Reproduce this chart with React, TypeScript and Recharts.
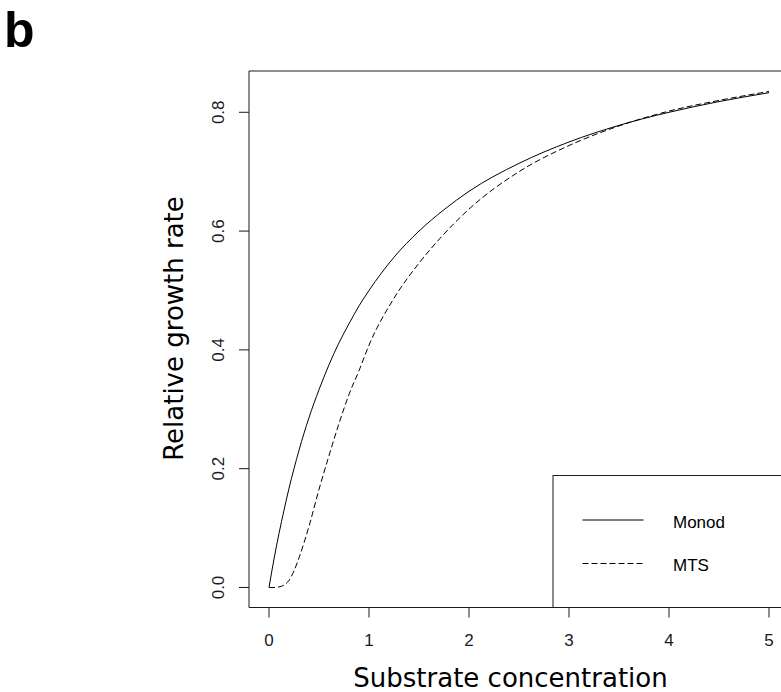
import { LineChart, Line, XAxis, YAxis, ReferenceArea } from 'recharts';

// substrate concentration (x) and relative growth rate
const SUBSTRATE = [0, 0.05, 0.1, 0.15, 0.2, 0.25, 0.3, 0.4, 0.5, 0.6, 0.7, 0.8, 0.9, 1.0, 1.25, 1.5, 1.75, 2, 2.5, 3, 3.5, 4, 4.5, 5];
const MONOD = [0, 0.048, 0.091, 0.13, 0.167, 0.2, 0.231, 0.286, 0.333, 0.375, 0.412, 0.444, 0.474, 0.5, 0.556, 0.6, 0.636, 0.667, 0.714, 0.75, 0.778, 0.8, 0.818, 0.833];
const MTS = [0, 0, 0.001, 0.004, 0.012, 0.028, 0.05, 0.103, 0.165, 0.222, 0.276, 0.325, 0.365, 0.408, 0.487, 0.546, 0.595, 0.637, 0.7, 0.744, 0.777, 0.802, 0.82, 0.835];

const X_TICKS = [0, 1, 2, 3, 4, 5];
const Y_TICKS = [0, 0.2, 0.4, 0.6, 0.8];
const X_DOMAIN: [number, number] = [-0.2, 5.2];
const Y_DOMAIN: [number, number] = [-0.0337, 0.8695];

const data = SUBSTRATE.map((s, i) => ({ s, monod: MONOD[i], mts: MTS[i] }));

const INK = '#1a1a1a';
const TICK_FONT = '"Liberation Sans", Arial, sans-serif';
const TITLE_FONT = '"DejaVu Sans", Verdana, sans-serif';

const YTick = ({ y, payload }: any) => (
  <text
    x={224}
    y={y}
    transform={`rotate(-90 224 ${y})`}
    textAnchor="middle"
    fontFamily={TICK_FONT}
    fontSize={17}
    fill={INK}
  >
    {Number(payload.value).toFixed(1)}
  </text>
);

export default function App() {
  return (
    <div
      style={{
        position: 'fixed',
        left: 0,
        top: 0,
        width: 781,
        height: 692,
        overflow: 'hidden',
        background: '#fff',
      }}
    >
      <LineChart
        width={800}
        height={692}
        data={data}
        margin={{ top: 71, right: 11, bottom: 24.5, left: 189 }}
      >
        <XAxis
          dataKey="s"
          type="number"
          domain={X_DOMAIN}
          ticks={X_TICKS}
          allowDataOverflow
          axisLine={false}
          tickSize={10}
          tickMargin={16}
          height={60}
          tickLine={{ stroke: INK }}
          tick={{ fontFamily: TICK_FONT, fontSize: 17, fill: INK }}
        />
        <YAxis
          type="number"
          domain={Y_DOMAIN}
          ticks={Y_TICKS}
          allowDataOverflow
          axisLine={false}
          tickSize={10}
          width={60}
          tickLine={{ stroke: INK }}
          tick={<YTick />}
        />
        <ReferenceArea
          x1={X_DOMAIN[0]}
          x2={X_DOMAIN[1]}
          y1={Y_DOMAIN[0]}
          y2={Y_DOMAIN[1]}
          fill="none"
          fillOpacity={0}
          stroke={INK}
          strokeWidth={1}
        />
        <Line
          dataKey="monod"
          type="monotone"
          stroke="#000"
          strokeWidth={1}
          dot={false}
          isAnimationActive={false}
        />
        <Line
          dataKey="mts"
          type="monotone"
          stroke="#000"
          strokeWidth={1}
          strokeDasharray="6 3"
          dot={false}
          isAnimationActive={false}
        />
      </LineChart>

      {/* panel letter and axis titles */}
      <svg
        width={781}
        height={692}
        style={{ position: 'absolute', left: 0, top: 0, pointerEvents: 'none' }}
      >
        <text x={4} y={47} fontFamily={TICK_FONT} fontWeight="bold" fontSize={50} fill="#000">
          b
        </text>
        <text x={510.5} y={687} textAnchor="middle" fontFamily={TITLE_FONT} fontSize={26} fill="#000">
          Substrate concentration
        </text>
        <text
          x={183}
          y={328.5}
          transform="rotate(-90 183 328.5)"
          textAnchor="middle"
          fontFamily={TITLE_FONT}
          fontSize={26}
          fill="#000"
        >
          Relative growth rate
        </text>

        {/* legend */}
        <rect x={553} y={475.5} width={260} height={132} fill="#fff" stroke={INK} strokeWidth={1} />
        <line x1={582.5} x2={643.5} y1={520} y2={520} stroke="#000" strokeWidth={1} />
        <line x1={582.5} x2={643.5} y1={563.5} y2={563.5} stroke="#000" strokeWidth={1} strokeDasharray="6 3" />
        <text x={673} y={527.5} fontFamily={TICK_FONT} fontSize={17} fill="#000">
          Monod
        </text>
        <text x={673} y={571} fontFamily={TICK_FONT} fontSize={17} fill="#000">
          MTS
        </text>
      </svg>
    </div>
  );
}
